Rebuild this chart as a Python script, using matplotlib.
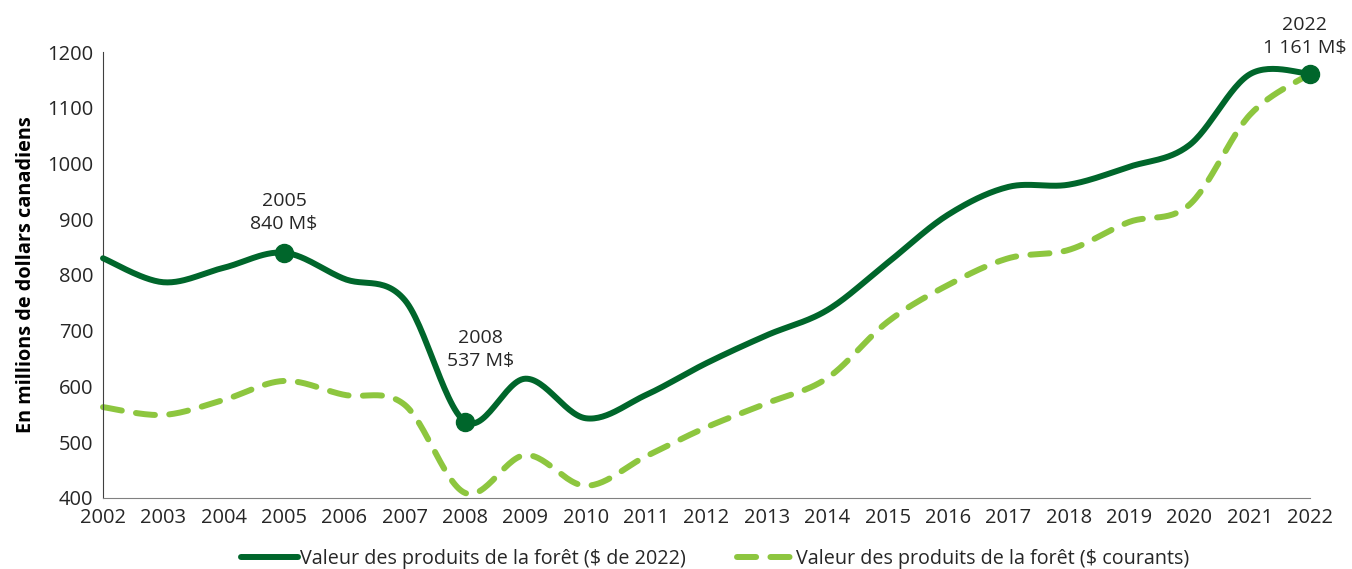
import numpy as np
import matplotlib
matplotlib.use("Agg")
import matplotlib.pyplot as plt

plt.rcParams['font.family'] = ['Open Sans', 'DejaVu Sans']

# données
annees = list(range(2002, 2023))
valeur_2022 = [830, 787, 813, 840, 793, 755, 537, 614, 543, 585, 642, 692, 737, 822,
               908, 958, 962, 994, 1033, 1160, 1161]
valeur_courants = [563, 549, 576, 610, 585, 567, 409, 477, 422, 475, 527, 570, 615, 716,
                   782, 830, 845, 895, 926, 1087, 1161]
points_annotes = [2005, 2008, 2022]
etiquettes = ["2005\n840 M$", "2008\n537 M$", "2022\n1 161 M$"]
decalages = [(0, 14), (11, 37), (-4, 12)]

vert_fonce = "#00662b"
vert_clair = "#8dc63f"


# courbe lissée façon Excel (Catmull-Rom)
def lisser(x, y, n=30):
    x = np.asarray(x, float)
    y = np.asarray(y, float)
    px = np.concatenate(([x[0]], x, [x[-1]]))
    py = np.concatenate(([y[0]], y, [y[-1]]))
    xs, ys = [], []
    t = np.linspace(0, 1, n)
    for i in range(1, len(px) - 2):
        p0, p1, p2, p3 = [np.array([px[j], py[j]]) for j in (i - 1, i, i + 1, i + 2)]
        c1 = p1 + (p2 - p0) / 6
        c2 = p2 - (p3 - p1) / 6
        b = ((1 - t) ** 3)[:, None] * p1 + (3 * (1 - t) ** 2 * t)[:, None] * c1 \
            + (3 * (1 - t) * t ** 2)[:, None] * c2 + (t ** 3)[:, None] * p2
        xs.append(b[:, 0])
        ys.append(b[:, 1])
    return np.concatenate(xs), np.concatenate(ys)


fig = plt.figure(figsize=(13.52, 5.69), dpi=100)
ax = fig.add_axes([0.0762, 0.1248, 0.8928, 0.7838])

xs, ys = lisser(annees, valeur_courants)
ax.plot(xs, ys, color=vert_clair, lw=4.3, dashes=(3.2, 2.4), dash_capstyle='round',
        label="Valeur des produits de la forêt ($ courants)", clip_on=False, zorder=2)
xs, ys = lisser(annees, valeur_2022)
ax.plot(xs, ys, color=vert_fonce, lw=4.3, solid_capstyle='round',
        label="Valeur des produits de la forêt ($ de 2022)", clip_on=False, zorder=3)

for an, txt, dec in zip(points_annotes, etiquettes, decalages):
    v = valeur_2022[annees.index(an)]
    ax.plot(an, v, 'o', color=vert_fonce, ms=13, clip_on=False, zorder=4)
    ax.annotate(txt, (an, v), xytext=dec, textcoords='offset points', ha='center',
                va='bottom', fontsize=14, color='#262626', linespacing=1.35)

ax.set_xlim(2002, 2022)
ax.set_ylim(400, 1200)
ax.set_xticks(annees)
ax.set_yticks(range(400, 1201, 100))
ax.tick_params(length=0, labelsize=14.5, colors='#262626', pad=7)
for s in ['top', 'right']:
    ax.spines[s].set_visible(False)
ax.spines['left'].set_color('#404040')
ax.spines['bottom'].set_color('#808080')
ax.set_ylabel("En millions de dollars canadiens", fontsize=14.3, fontweight='bold',
              color='black', labelpad=8)

h, l = ax.get_legend_handles_labels()
ax.legend(h[::-1], l[::-1], loc='upper center', bbox_to_anchor=(0.507, -0.075), ncol=2,
          frameon=False, fontsize=14.2, handlelength=2.9, columnspacing=2.6,
          handletextpad=0.1, labelcolor='#262626')

fig.savefig("out.png", dpi=100)
